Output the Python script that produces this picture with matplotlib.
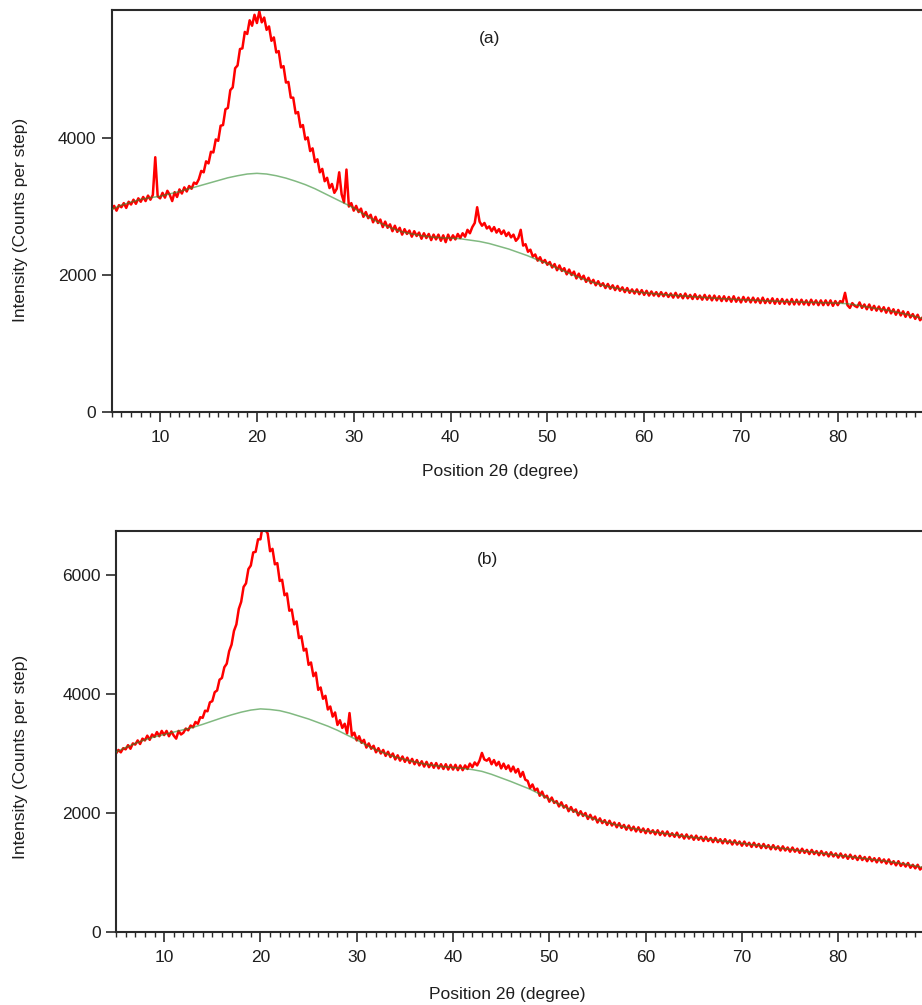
import numpy as np
import matplotlib
matplotlib.use("Agg")
import matplotlib.pyplot as plt
from matplotlib.ticker import MultipleLocator, FixedLocator

plt.rcParams['font.family'] = ['Liberation Sans', 'DejaVu Sans']

# ---------------- data ----------------
# scan positions (2theta, degree), step 0.25 from 5.00 to 88.75
scan_theta = np.arange(5.0, 89.0, 0.25)

# panel (a) measured counts, 4 values per degree (x.00, x.25, x.50, x.75)
counts_a = [
    2950, 3010, 2940, 3020,   # 5
    2990, 3050, 2980, 3070,   # 6
    3030, 3100, 3040, 3120,   # 7
    3070, 3140, 3080, 3160,   # 8
    3100, 3170, 3720, 3150,   # 9
    3120, 3200, 3130, 3230,   # 10
    3170, 3080, 3210, 3140,   # 11
    3250, 3190, 3280, 3220,   # 12
    3300, 3260, 3350, 3330,   # 13
    3400, 3520, 3500, 3660,   # 14
    3630, 3800, 3790, 3980,   # 15
    3960, 4180, 4190, 4420,   # 16
    4440, 4700, 4740, 5020,   # 17
    5060, 5300, 5310, 5550,   # 18
    5520, 5720, 5640, 5800,   # 19
    5680, 5850, 5690, 5760,   # 20
    5580, 5630, 5420, 5470,   # 21
    5250, 5270, 5030, 5050,   # 22
    4810, 4820, 4590, 4590,   # 23
    4360, 4380, 4160, 4190,   # 24
    3980, 4010, 3810, 3850,   # 25
    3650, 3690, 3500, 3550,   # 26
    3370, 3420, 3270, 3330,   # 27
    3200, 3260, 3500, 3180,   # 28
    3060, 3540, 3000, 3050,   # 29
    2940, 3010, 2920, 2970,   # 30
    2850, 2920, 2830, 2880,   # 31
    2770, 2850, 2760, 2810,   # 32
    2700, 2780, 2690, 2740,   # 33
    2640, 2720, 2630, 2690,   # 34
    2590, 2670, 2600, 2650,   # 35
    2560, 2640, 2570, 2620,   # 36
    2530, 2610, 2540, 2600,   # 37
    2510, 2590, 2520, 2590,   # 38
    2500, 2580, 2480, 2590,   # 39
    2510, 2580, 2520, 2600,   # 40
    2540, 2610, 2560, 2660,   # 41
    2610, 2700, 2760, 2990,   # 42
    2780, 2720, 2760, 2680,   # 43
    2710, 2640, 2700, 2620,   # 44
    2670, 2600, 2650, 2570,   # 45
    2620, 2550, 2590, 2500,   # 46
    2540, 2660, 2430, 2450,   # 47
    2340, 2370, 2270, 2300,   # 48
    2210, 2260, 2180, 2220,   # 49
    2150, 2190, 2110, 2160,   # 50
    2070, 2140, 2060, 2100,   # 51
    2010, 2080, 2000, 2050,   # 52
    1950, 2020, 1940, 1990,   # 53
    1900, 1960, 1880, 1930,   # 54
    1850, 1910, 1840, 1880,   # 55
    1810, 1870, 1800, 1850,   # 56
    1780, 1840, 1770, 1820,   # 57
    1750, 1810, 1740, 1790,   # 58
    1730, 1790, 1720, 1780,   # 59
    1710, 1770, 1700, 1760,   # 60
    1700, 1750, 1690, 1750,   # 61
    1690, 1740, 1680, 1730,   # 62
    1670, 1740, 1670, 1720,   # 63
    1660, 1730, 1660, 1710,   # 64
    1650, 1720, 1650, 1700,   # 65
    1640, 1710, 1640, 1700,   # 66
    1630, 1700, 1630, 1690,   # 67
    1620, 1690, 1620, 1680,   # 68
    1610, 1690, 1610, 1670,   # 69
    1600, 1680, 1610, 1670,   # 70
    1600, 1670, 1600, 1660,   # 71
    1590, 1670, 1590, 1650,   # 72
    1590, 1660, 1580, 1650,   # 73
    1580, 1650, 1580, 1640,   # 74
    1570, 1650, 1570, 1640,   # 75
    1570, 1640, 1570, 1630,   # 76
    1560, 1640, 1570, 1630,   # 77
    1560, 1630, 1560, 1630,   # 78
    1560, 1630, 1550, 1620,   # 79
    1560, 1620, 1600, 1740,   # 80
    1560, 1520, 1590, 1550,   # 81
    1530, 1600, 1520, 1570,   # 82
    1500, 1570, 1490, 1550,   # 83
    1480, 1540, 1470, 1530,   # 84
    1450, 1520, 1440, 1500,   # 85
    1420, 1490, 1410, 1470,   # 86
    1390, 1460, 1380, 1430,   # 87
    1360, 1420, 1340, 1380,   # 88
]

# panel (b) measured counts
counts_b = [
    3000, 3060, 3020, 3090,   # 5
    3070, 3140, 3080, 3170,   # 6
    3150, 3220, 3160, 3250,   # 7
    3220, 3300, 3230, 3320,   # 8
    3280, 3360, 3290, 3380,   # 9
    3310, 3380, 3290, 3370,   # 10
    3300, 3250, 3380, 3320,   # 11
    3350, 3420, 3390, 3470,   # 12
    3440, 3530, 3500, 3610,   # 13
    3600, 3720, 3710, 3860,   # 14
    3880, 4030, 4060, 4240,   # 15
    4270, 4450, 4510, 4720,   # 16
    4830, 5060, 5170, 5430,   # 17
    5550, 5800, 5860, 6100,   # 18
    6160, 6380, 6390, 6600,   # 19
    6600, 6850, 6760, 6700,   # 20
    6400, 6440, 6180, 6200,   # 21
    5900, 5920, 5660, 5690,   # 22
    5400, 5420, 5170, 5220,   # 23
    4940, 4970, 4730, 4760,   # 24
    4490, 4530, 4300, 4360,   # 25
    4070, 4110, 3920, 3970,   # 26
    3740, 3790, 3620, 3690,   # 27
    3480, 3560, 3430, 3500,   # 28
    3340, 3680, 3300, 3350,   # 29
    3220, 3290, 3180, 3230,   # 30
    3100, 3170, 3080, 3130,   # 31
    3020, 3090, 3000, 3060,   # 32
    2960, 3030, 2940, 3000,   # 33
    2900, 2970, 2880, 2950,   # 34
    2860, 2930, 2840, 2910,   # 35
    2820, 2890, 2800, 2870,   # 36
    2780, 2860, 2770, 2840,   # 37
    2760, 2840, 2750, 2820,   # 38
    2740, 2820, 2730, 2810,   # 39
    2730, 2810, 2720, 2800,   # 40
    2720, 2800, 2740, 2830,   # 41
    2770, 2850, 2800, 2880,   # 42
    3010, 2900, 2880, 2920,   # 43
    2820, 2890, 2800, 2860,   # 44
    2750, 2830, 2740, 2800,   # 45
    2700, 2780, 2680, 2740,   # 46
    2610, 2690, 2560, 2540,   # 47
    2420, 2480, 2380, 2410,   # 48
    2290, 2360, 2260, 2290,   # 49
    2190, 2260, 2170, 2200,   # 50
    2110, 2180, 2090, 2130,   # 51
    2030, 2100, 2020, 2060,   # 52
    1960, 2030, 1950, 2000,   # 53
    1900, 1970, 1890, 1940,   # 54
    1840, 1910, 1830, 1880,   # 55
    1800, 1870, 1790, 1840,   # 56
    1760, 1830, 1750, 1800,   # 57
    1720, 1790, 1710, 1770,   # 58
    1690, 1760, 1680, 1740,   # 59
    1660, 1730, 1660, 1710,   # 60
    1640, 1710, 1630, 1690,   # 61
    1620, 1690, 1610, 1660,   # 62
    1600, 1670, 1590, 1640,   # 63
    1570, 1640, 1570, 1620,   # 64
    1550, 1620, 1550, 1600,   # 65
    1530, 1600, 1530, 1580,   # 66
    1510, 1580, 1510, 1560,   # 67
    1490, 1560, 1490, 1540,   # 68
    1470, 1540, 1470, 1520,   # 69
    1450, 1520, 1450, 1500,   # 70
    1430, 1500, 1430, 1480,   # 71
    1410, 1480, 1410, 1460,   # 72
    1390, 1460, 1390, 1440,   # 73
    1370, 1440, 1370, 1420,   # 74
    1350, 1420, 1350, 1400,   # 75
    1330, 1400, 1330, 1380,   # 76
    1310, 1380, 1310, 1360,   # 77
    1290, 1360, 1290, 1340,   # 78
    1270, 1340, 1270, 1320,   # 79
    1250, 1320, 1250, 1300,   # 80
    1230, 1300, 1230, 1280,   # 81
    1210, 1280, 1210, 1260,   # 82
    1190, 1260, 1190, 1240,   # 83
    1170, 1240, 1170, 1220,   # 84
    1150, 1220, 1140, 1190,   # 85
    1120, 1190, 1110, 1160,   # 86
    1100, 1160, 1080, 1130,   # 87
    1070, 1130, 1050, 1090,   # 88
]

# fitted amorphous background positions and values
baseline_theta = list(range(5, 89)) + [88.75]
baseline_a = [
    2960, 3020, 3065, 3105, 3130, 3150, 3185, 3220, 3260, 3300,   # 5-14
    3340, 3380, 3420, 3450, 3475, 3485, 3475, 3450, 3415, 3370,   # 15-24
    3320, 3260, 3190, 3120, 3050, 2980, 2890, 2810, 2740, 2680,   # 25-34
    2630, 2600, 2575, 2555, 2545, 2540, 2530, 2510, 2490, 2460,   # 35-44
    2420, 2380, 2330, 2280, 2220, 2170, 2100, 2040, 1980, 1925,   # 45-54
    1880, 1840, 1810, 1780, 1760, 1740, 1728, 1716, 1705, 1695,   # 55-64
    1685, 1675, 1665, 1655, 1648, 1640, 1635, 1628, 1622, 1616,   # 65-74
    1610, 1606, 1602, 1598, 1594, 1590, 1580, 1560, 1535, 1510,   # 75-84
    1490, 1460, 1430, 1395, 1365,                                 # 85-88.75
]
baseline_b = [
    3025, 3100, 3170, 3230, 3280, 3320, 3360, 3400, 3440, 3490,   # 5-14
    3545, 3600, 3650, 3695, 3730, 3750, 3740, 3720, 3680, 3630,   # 15-24
    3580, 3520, 3460, 3390, 3310, 3230, 3140, 3060, 3000, 2940,   # 25-34
    2900, 2860, 2825, 2800, 2780, 2765, 2750, 2730, 2700, 2650,   # 35-44
    2590, 2530, 2465, 2400, 2320, 2230, 2150, 2070, 2000, 1940,   # 45-54
    1880, 1840, 1800, 1760, 1730, 1700, 1680, 1655, 1635, 1610,   # 55-64
    1590, 1570, 1550, 1530, 1510, 1490, 1470, 1450, 1430, 1410,   # 65-74
    1390, 1370, 1350, 1330, 1310, 1290, 1270, 1250, 1230, 1210,   # 75-84
    1190, 1165, 1140, 1110, 1085,                                 # 85-88.75
]

x_ticks = [10, 20, 30, 40, 50, 60, 70, 80]
y_ticks_a = [0, 2000, 4000]
y_ticks_b = [0, 2000, 4000, 6000]
panel_labels = ['(a)', '(b)']
x_label = 'Position 2θ (degree)'
y_label = 'Intensity (Counts per step)'

# ---------------- figure ----------------
W, H = 922, 1005
fig = plt.figure(figsize=(W / 100, H / 100), dpi=100)
fig.patch.set_facecolor('white')

ax_a = fig.add_axes([111.7 / W, 1 - 412 / H, 1 - 111.7 / W, 402 / H])
ax_b = fig.add_axes([116 / W, 1 - 932 / H, 1 - 116 / W, 401 / H])

FS = 12.5
spine_col = '#2a2a2a'
text_col = '#1e1e1e'

panels = [
    (ax_a, counts_a, baseline_a, y_ticks_a, 5870, panel_labels[0], (0.466, 0.930),
     (0.479, -0.149), (-0.113, 0.478)),
    (ax_b, counts_b, baseline_b, y_ticks_b, 6740, panel_labels[1], (0.4615, 0.928),
     (0.485, -0.157), (-0.119, 0.436)),
]

for ax, counts, base, yt, ytop, lab, labpos, xlpos, ylpos in panels:
    ax.plot(scan_theta, counts, color='#ff0000', lw=1.8, zorder=2)
    ax.plot(baseline_theta, base, color='#2e8b2e', lw=1.1, alpha=0.6, zorder=3)
    ax.set_xlim(5, 88.7)
    ax.set_ylim(0, ytop)
    ax.xaxis.set_major_locator(FixedLocator(x_ticks))
    ax.xaxis.set_minor_locator(MultipleLocator(1))
    ax.yaxis.set_major_locator(FixedLocator(yt))
    ax.tick_params(axis='both', which='major', direction='out', length=7,
                   width=1.2, color=spine_col, labelsize=FS, labelcolor=text_col, pad=4)
    ax.tick_params(axis='x', which='major', pad=6)
    ax.tick_params(axis='x', which='minor', direction='out', length=3.5,
                   width=1.0, color=spine_col)
    for s in ['left', 'bottom', 'top']:
        ax.spines[s].set_color(spine_col)
        ax.spines[s].set_linewidth(1.5)
    ax.spines['right'].set_visible(False)
    ax.set_xlabel(x_label, fontsize=FS, color=text_col)
    ax.xaxis.set_label_coords(*xlpos)
    ax.xaxis.label.set_verticalalignment('center')
    ax.set_ylabel(y_label, fontsize=FS, color=text_col)
    ax.yaxis.set_label_coords(*ylpos)
    ax.yaxis.label.set_verticalalignment('center')
    ax.text(labpos[0], labpos[1], lab, transform=ax.transAxes, ha='center',
            va='center', fontsize=FS, color=text_col)

fig.savefig('out.png', dpi=100)
